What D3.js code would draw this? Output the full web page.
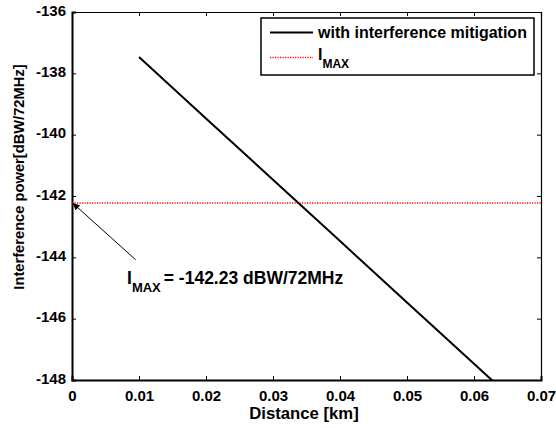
<!DOCTYPE html>
<html>
<head>
<meta charset="utf-8">
<script src="https://cdn.jsdelivr.net/npm/d3@7"></script>
<style>
  body { margin: 0; background: #fff; }
  text { font-family: "Liberation Sans", Arial, sans-serif; font-weight: bold; fill: #000; }
</style>
</head>
<body>
<div id="chart"></div>
<script>
// data
const distance = [0.01, 0.02, 0.03, 0.04, 0.05, 0.06, 0.07];
const power    = [-137.47, -139.47, -141.47, -143.47, -145.47, -147.47, -149.47];
const iMax = -142.23;
const xTicks = [0, 0.01, 0.02, 0.03, 0.04, 0.05, 0.06, 0.07];
const yTicks = [-136, -138, -140, -142, -144, -146, -148];
// annotation arrow: tail -> tip (data units)
const arrowTail = [0.0095, -144.08];
const arrowTip  = [0.0001, -142.23];

const W = 556, H = 428;
const margin = {top: 12, right: 15, bottom: 48, left: 72};
const width = W - margin.left - margin.right;
const height = H - margin.top - margin.bottom;

const svg = d3.select("#chart")
  .append("svg")
    .attr("width", W)
    .attr("height", H);

const g = svg.append("g")
  .attr("transform", `translate(${margin.left},${margin.top})`);

const x = d3.scaleLinear().domain([0, 0.07]).range([0, width]);
const y = d3.scaleLinear().domain([-148, -136]).range([height, 0]);

svg.append("defs").append("clipPath").attr("id", "clip")
  .append("rect").attr("width", width).attr("height", height);
svg.select("defs").append("marker")
    .attr("id", "arrow")
    .attr("viewBox", "0 0 10 10")
    .attr("refX", 10).attr("refY", 5)
    .attr("markerWidth", 9).attr("markerHeight", 7)
    .attr("markerUnits", "userSpaceOnUse")
    .attr("orient", "auto")
  .append("path")
    .attr("d", "M0,0 L10,5 L0,10 z")
    .attr("fill", "#000");

// axes with inward ticks
const xAxis = g.append("g")
  .attr("transform", `translate(0,${height})`)
  .call(d3.axisBottom(x).tickValues(xTicks).tickSize(-4).tickPadding(8)
        .tickFormat(d => d === 0 ? "0" : d3.format(".2f")(d)));
const xTop = g.append("g")
  .call(d3.axisTop(x).tickValues(xTicks).tickSize(-4).tickFormat(""));
const yAxis = g.append("g")
  .call(d3.axisLeft(y).tickValues(yTicks).tickSize(-4).tickPadding(6)
        .tickFormat(d => String(d)));
const yRight = g.append("g")
  .attr("transform", `translate(${width},0)`)
  .call(d3.axisRight(y).tickValues(yTicks).tickSize(-4).tickFormat(""));

[xAxis, xTop, yAxis, yRight].forEach(a => {
  a.select(".domain").attr("stroke", "#000").attr("stroke-width", 1.2);
  a.selectAll(".tick line").attr("stroke", "#000");
  a.selectAll("text").style("font-size", "15px").attr("fill", "#000");
});
xAxis.select(".domain").attr("stroke-width", 2);
yAxis.select(".domain").attr("stroke-width", 2);
yAxis.selectAll("text").attr("dy", "0.2em");
xAxis.selectAll(".tick text").attr("dy", "0.85em");

// IMAX horizontal line
g.append("line")
  .attr("x1", x(0)).attr("x2", x(0.07))
  .attr("y1", y(iMax)).attr("y2", y(iMax))
  .attr("stroke", "#f00")
  .attr("stroke-width", 1.5)
  .attr("stroke-dasharray", "1.2,1.3");

// main series
const line = d3.line().x((d, i) => x(distance[i])).y(d => y(d));
g.append("path")
  .datum(power)
  .attr("clip-path", "url(#clip)")
  .attr("fill", "none")
  .attr("stroke", "#000")
  .attr("stroke-width", 2)
  .attr("d", line);

// annotation arrow
g.append("line")
  .attr("x1", x(arrowTail[0])).attr("y1", y(arrowTail[1]))
  .attr("x2", x(arrowTip[0])).attr("y2", y(arrowTip[1]))
  .attr("stroke", "#000")
  .attr("stroke-width", 1)
  .attr("marker-end", "url(#arrow)");

const ann = g.append("text")
  .attr("x", 55).attr("y", 272)
  .style("font-size", "17.5px");
ann.append("tspan").text("I");
ann.append("tspan").attr("dy", 8).style("font-size", "13px").text("MAX");
ann.append("tspan").attr("dy", -8).attr("dx", 3).text("= -142.23 dBW/72MHz");

// legend
const leg = g.append("g").attr("transform", "translate(189,6)");
leg.append("rect")
  .attr("width", 273).attr("height", 57)
  .attr("fill", "#fff").attr("stroke", "#000").attr("stroke-width", 1.5);
leg.append("line")
  .attr("x1", 9).attr("x2", 52).attr("y1", 14.5).attr("y2", 14.5)
  .attr("stroke", "#000").attr("stroke-width", 2);
leg.append("text").attr("x", 57).attr("y", 20).style("font-size", "16px")
  .text("with interference mitigation");
leg.append("line")
  .attr("x1", 9).attr("x2", 52).attr("y1", 39.5).attr("y2", 39.5)
  .attr("stroke", "#f00").attr("stroke-width", 1.5)
  .attr("stroke-dasharray", "1.2,1.3");
const lt = leg.append("text").attr("x", 57).attr("y", 42).style("font-size", "16px");
lt.append("tspan").text("I");
lt.append("tspan").attr("dy", 8).style("font-size", "12px").text("MAX");

// axis titles
svg.append("text")
  .attr("x", 304).attr("y", 419)
  .attr("text-anchor", "middle")
  .style("font-size", "16.7px")
  .text("Distance [km]");
svg.append("text")
  .attr("transform", `translate(24,${margin.top + height / 2 - 19}) rotate(-90)`)
  .attr("text-anchor", "middle")
  .style("font-size", "14.7px")
  .text("Interference power[dBW/72MHz]");
</script>
</body>
</html>
